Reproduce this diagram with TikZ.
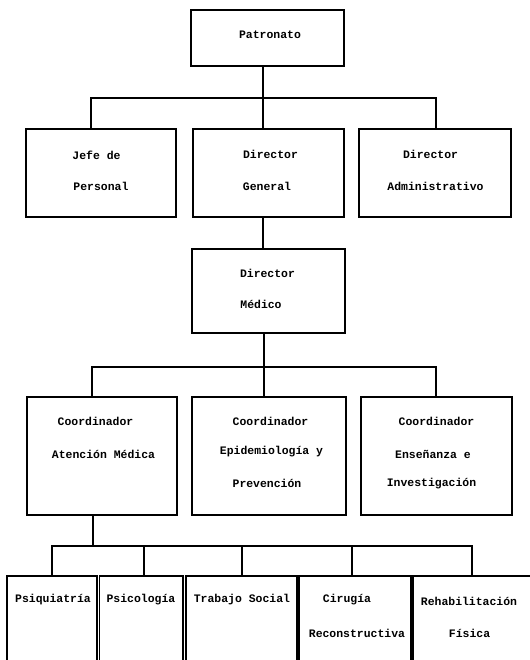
\documentclass[tikz,border=0pt]{standalone}
\usepackage{fontspec}
\setmainfont{Liberation Mono}
\begin{document}
\begin{tikzpicture}[x=1bp,y=-1bp,
  box/.style={draw, line width=1.6bp, inner sep=0pt, minimum width=#1},
  lvl1/.style={minimum height=56bp},
  lvl2/.style={minimum height=88bp},
  lvl3/.style={minimum height=84bp},
  lvl4/.style={minimum height=118bp},
  lvl5/.style={minimum height=100bp},
  txt/.style={inner sep=0pt, font=\fontsize{11.5}{13}\selectfont\bfseries},
  conn/.style={line width=1.6bp}]
\useasboundingbox (0,0) rectangle (530,660);
\clip (0,0) rectangle (530,660);
% boxes
\node[box=153bp, lvl1] (pat) at (267.5,38) {};
\node[box=150bp, lvl2] (jefe) at (101,173) {};
\node[box=151bp, lvl2] (dg) at (268.5,173) {};
\node[box=152bp, lvl2] (da) at (435,173) {};
\node[box=153bp, lvl3] (dm) at (268.5,291) {};
\node[box=150bp, lvl4] (c1) at (102,456) {};
\node[box=154bp, lvl4] (c2) at (269,456) {};
\node[box=151bp, lvl4] (c3) at (436.5,456) {};
\node[box=90bp, lvl5] (b1) at (52,626) {};
\node[box=83.5bp, lvl5] (b2) at (141.25,626) {};
\node[box=111bp, lvl5] (b3) at (241.5,626) {};
\node[box=112bp, lvl5] (b4) at (355,626) {};
\node[box=132bp, lvl5] (b5) at (479,626) {};
% texts
\node[txt] (tpat) at (270,35) {Patronato};
\node[txt] (tj1) at (96.5,155) {Jefe de};
\node[txt] (tj2) at (101,186) {Personal};
\node[txt] (tg1) at (270.5,154) {Director};
\node[txt] (tg2) at (267,186) {General};
\node[txt] (ta1) at (430.5,154) {Director};
\node[txt] (ta2) at (435.5,186) {Administrativo};
\node[txt] (tm1) at (267.5,273) {Director};
\node[txt] (tm2) at (261,304) {Médico};
\node[txt] (tc11) at (95.5,421) {Coordinador};
\node[txt] (tc12) at (103.5,454) {Atención Médica};
\node[txt] (tc21) at (270.5,421) {Coordinador};
\node[txt] (tc22) at (271.5,452) {Epidemiología y};
\node[txt] (tc23) at (267,483) {Prevención};
\node[txt] (tc31) at (436.5,421) {Coordinador};
\node[txt] (tc32) at (433,454) {Enseñanza e};
\node[txt] (tc33) at (431.5,484) {Investigación};
\node[txt] (tb1) at (53,600) {Psiquiatría};
\node[txt] (tb2) at (141,600) {Psicología};
\node[txt] (tb3) at (242,600) {Trabajo Social};
\node[txt] (tb41) at (347,600) {Cirugía};
\node[txt] (tb42) at (357,633) {Reconstructiva};
\node[txt] (tb51) at (469,601) {Rehabilitación};
\node[txt] (tb52) at (469.5,633) {Física};
% connector points
\coordinate (h1l) at (91,98);
\coordinate (h1m) at (263,98);
\coordinate (h1r) at (436,98);
\coordinate (h2l) at (92,367);
\coordinate (h2m) at (264,367);
\coordinate (h2r) at (436,367);
\coordinate (h3m) at (93,546);
\coordinate (h3a) at (52,546);
\coordinate (h3b) at (144,546);
\coordinate (h3c) at (242,546);
\coordinate (h3d) at (352,546);
\coordinate (h3e) at (472,546);
% connectors
\draw[conn] (pat.south -| h1m) -- (h1m);
\draw[conn] (jefe.north -| h1l) -- (h1l) -- (h1r) -- (da.north -| h1r);
\draw[conn] (h1m) -- (dg.north -| h1m);
\draw[conn] (dg.south -| h1m) -- (dm.north -| h1m);
\draw[conn] (dm.south -| h2m) -- (h2m);
\draw[conn] (c1.north -| h2l) -- (h2l) -- (h2r) -- (c3.north -| h2r);
\draw[conn] (h2m) -- (c2.north -| h2m);
\draw[conn] (c1.south -| h3m) -- (h3m);
\draw[conn] (b1.north -| h3a) -- (h3a) -- (h3e) -- (b5.north -| h3e);
\draw[conn] (h3b) -- (b2.north -| h3b);
\draw[conn] (h3c) -- (b3.north -| h3c);
\draw[conn] (h3d) -- (b4.north -| h3d);
\end{tikzpicture}
\end{document}
